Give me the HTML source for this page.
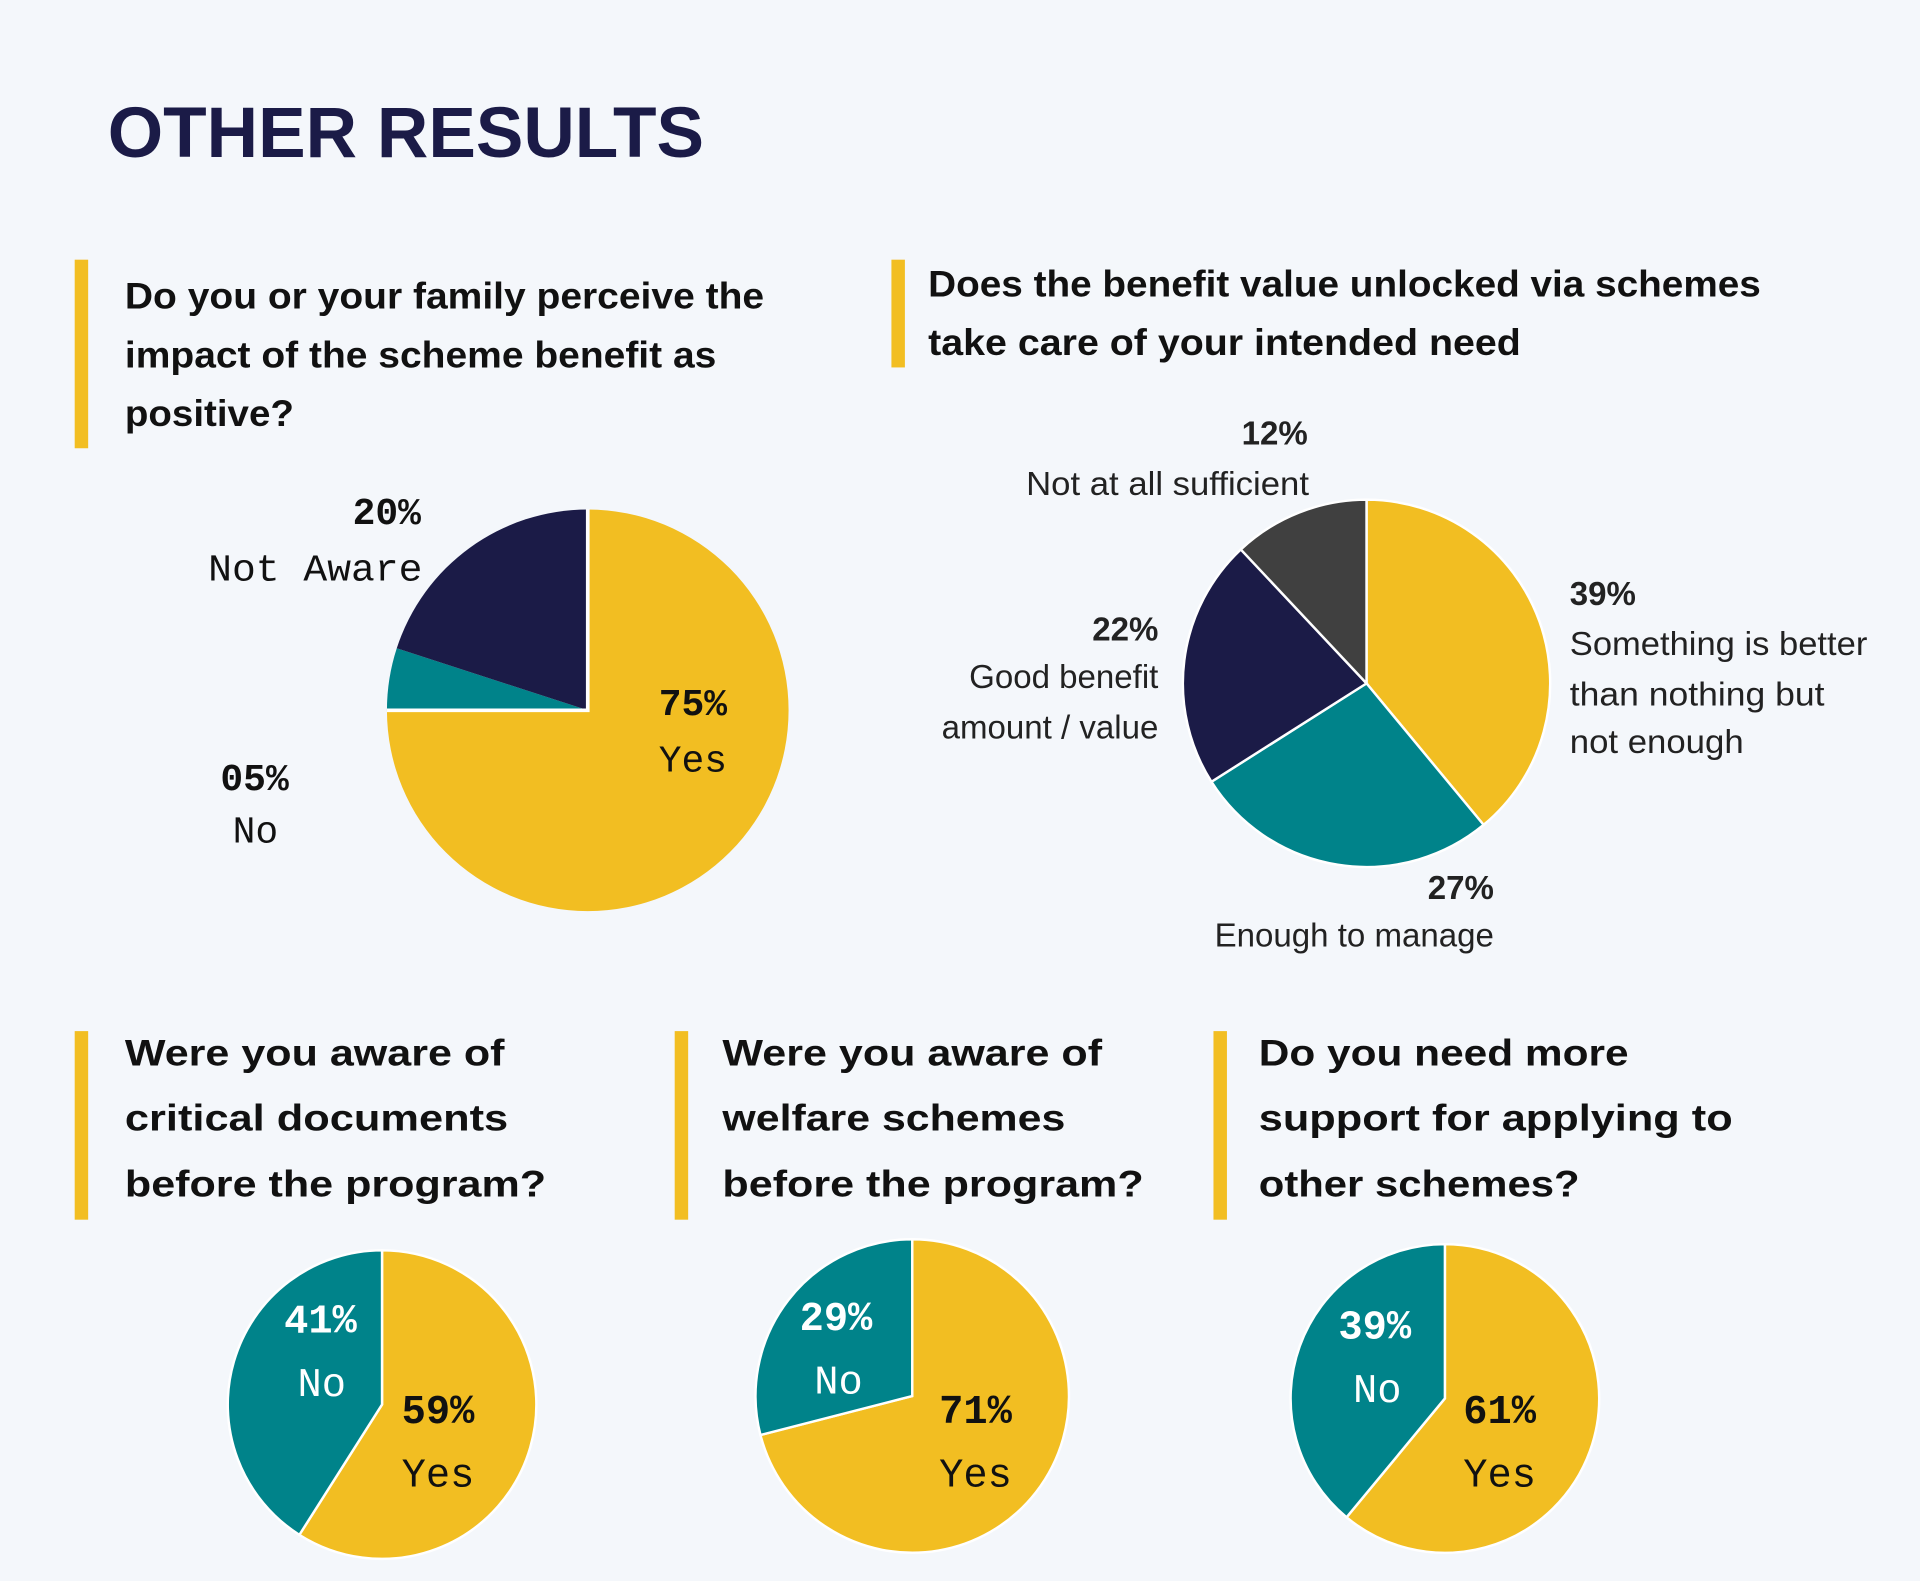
<!DOCTYPE html>
<html><head><meta charset="utf-8">
<style>
html,body{margin:0;padding:0;background:#f4f7fb;}
svg{display:block;}
.q{font-family:"Liberation Sans",sans-serif;font-weight:bold;font-size:30px;fill:#111;}
.mono{font-family:"Liberation Mono",monospace;font-size:31px;fill:#111;}
.sans{font-family:"Liberation Sans",sans-serif;font-size:27px;fill:#222;}
.b{font-weight:bold;}
</style></head>
<body>
<svg id="chart" width="1920" height="1581" viewBox="0 0 1568 1291" xmlns="http://www.w3.org/2000/svg">
<rect width="1568" height="1291" fill="#f4f7fb"/>
<text x="88" y="128" font-family="Liberation Sans,sans-serif" font-weight="bold" font-size="58" fill="#1b1b47" textLength="487" lengthAdjust="spacingAndGlyphs">OTHER  RESULTS</text>

<g>
<rect x="61" y="212" width="11" height="154" fill="#f2be22"/>
<text class="q" x="102" y="252" textLength="522" lengthAdjust="spacingAndGlyphs">Do you or your family perceive the</text>
<text class="q" x="102" y="300" textLength="483" lengthAdjust="spacingAndGlyphs">impact of the scheme benefit as</text>
<text class="q" x="102" y="348" textLength="138" lengthAdjust="spacingAndGlyphs">positive?</text>
</g>
<g>
<rect x="728" y="212" width="11" height="88" fill="#f2be22"/>
<text class="q" x="758" y="242" textLength="680" lengthAdjust="spacingAndGlyphs">Does the benefit value unlocked via schemes</text>
<text class="q" x="758" y="290" textLength="484" lengthAdjust="spacingAndGlyphs">take care of your intended need</text>
</g>
<g>
<rect x="61" y="842" width="11" height="154" fill="#f2be22"/>
<text class="q" x="102" y="870" textLength="310" lengthAdjust="spacingAndGlyphs">Were you aware of</text>
<text class="q" x="102" y="923" textLength="313" lengthAdjust="spacingAndGlyphs">critical documents</text>
<text class="q" x="102" y="977" textLength="344" lengthAdjust="spacingAndGlyphs">before the program?</text>
</g>
<g>
<rect x="551" y="842" width="11" height="154" fill="#f2be22"/>
<text class="q" x="590" y="870" textLength="310" lengthAdjust="spacingAndGlyphs">Were you aware of</text>
<text class="q" x="590" y="923" textLength="280" lengthAdjust="spacingAndGlyphs">welfare schemes</text>
<text class="q" x="590" y="977" textLength="344" lengthAdjust="spacingAndGlyphs">before the program?</text>
</g>
<g>
<rect x="991" y="842" width="11" height="154" fill="#f2be22"/>
<text class="q" x="1028" y="870" textLength="302" lengthAdjust="spacingAndGlyphs">Do you need more</text>
<text class="q" x="1028" y="923" textLength="387" lengthAdjust="spacingAndGlyphs">support for applying to</text>
<text class="q" x="1028" y="977" textLength="262" lengthAdjust="spacingAndGlyphs">other schemes?</text>
</g>

<g id="pies"></g>

<g>
<text class="mono b" x="288" y="428">20%</text>
<text class="mono" x="170" y="474" textLength="175" lengthAdjust="spacingAndGlyphs">Not Aware</text>
<text class="mono b" x="538" y="584">75%</text>
<text class="mono" x="538" y="630">Yes</text>
<text class="mono b" x="180" y="645">05%</text>
<text class="mono" x="190" y="688">No</text>
</g>
<g>
<text class="sans b" x="1014" y="363" font-size="25">12%</text>
<text class="sans" x="838" y="404" textLength="231" lengthAdjust="spacingAndGlyphs">Not at all sufficient</text>
<text class="sans b" x="1282" y="494" font-size="25">39%</text>
<text class="sans" x="1282" y="535" textLength="243" lengthAdjust="spacingAndGlyphs">Something is better</text>
<text class="sans" x="1282" y="576" textLength="208" lengthAdjust="spacingAndGlyphs">than nothing but</text>
<text class="sans" x="1282" y="615" textLength="142" lengthAdjust="spacingAndGlyphs">not enough</text>
<text class="sans b" x="946" y="523" text-anchor="end" font-size="25">22%</text>
<text class="sans" x="946" y="562" text-anchor="end">Good benefit</text>
<text class="sans" x="946" y="603" text-anchor="end">amount / value</text>
<text class="sans b" x="1220" y="734" text-anchor="end" font-size="25">27%</text>
<text class="sans" x="1220" y="773" text-anchor="end">Enough to manage</text>
</g>
<g font-family="Liberation Mono,monospace" font-size="33">
<text x="232" y="1088" fill="#fff" font-weight="bold">41%</text>
<text x="243" y="1140" fill="#fff">No</text>
<text x="328" y="1162" fill="#111" font-weight="bold">59%</text>
<text x="328" y="1214" fill="#111">Yes</text>
</g>
<g font-family="Liberation Mono,monospace" font-size="33">
<text x="653" y="1086" fill="#fff" font-weight="bold">29%</text>
<text x="665" y="1138" fill="#fff">No</text>
<text x="767" y="1162" fill="#111" font-weight="bold">71%</text>
<text x="767" y="1214" fill="#111">Yes</text>
</g>
<g font-family="Liberation Mono,monospace" font-size="33">
<text x="1093" y="1093" fill="#fff" font-weight="bold">39%</text>
<text x="1105" y="1145" fill="#fff">No</text>
<text x="1195" y="1162" fill="#111" font-weight="bold">61%</text>
<text x="1195" y="1214" fill="#111">Yes</text>
</g>
</svg>
<script>
const pie1Categories = ["Yes","No","Not Aware"];
const pie1Values = [75,5,20];
const pie2Categories = ["Something is better than nothing but not enough","Enough to manage","Good benefit amount / value","Not at all sufficient"];
const pie2Values = [39,27,22,12];
const pie3Categories = ["Yes","No"];
const pie3Values = [59,41];
const pie4Categories = ["Yes","No"];
const pie4Values = [71,29];
const pie5Categories = ["Yes","No"];
const pie5Values = [61,39];

const YEL="#f2be22", NAVY="#1b1b47", TEAL="#00838a", GRAY="#404040";
const pies = [
  {name:"pie-1", cx:480, cy:580, r:164, cats:pie1Categories, vals:pie1Values, cols:[YEL,TEAL,NAVY], stroke:"none"},
  {name:"pie-2", cx:1116, cy:558, r:150, cats:pie2Categories, vals:pie2Values, cols:[YEL,TEAL,NAVY,GRAY], stroke:"#fff"},
  {name:"pie-3", cx:312, cy:1147, r:126, cats:pie3Categories, vals:pie3Values, cols:[YEL,TEAL], stroke:"#fff"},
  {name:"pie-4", cx:745, cy:1140, r:128, cats:pie4Categories, vals:pie4Values, cols:[YEL,TEAL], stroke:"#fff"},
  {name:"pie-5", cx:1180, cy:1142, r:126, cats:pie5Categories, vals:pie5Values, cols:[YEL,TEAL], stroke:"#fff"}
];
const NS="http://www.w3.org/2000/svg";
const root=document.getElementById("pies");
function pt(cx,cy,r,a){return [cx+r*Math.sin(a), cy-r*Math.cos(a)];}
pies.forEach(p=>{
  const g=document.createElementNS(NS,"g");
  
  
  const total=p.vals.reduce((a,b)=>a+b,0);
  let acc=0;
  p.vals.forEach((v,i)=>{
    const a0=acc/total*2*Math.PI; acc+=v; const a1=acc/total*2*Math.PI;
    const s=pt(p.cx,p.cy,p.r,a0), e=pt(p.cx,p.cy,p.r,a1);
    const large=(a1-a0)>Math.PI?1:0;
    const path=document.createElementNS(NS,"path");
    path.setAttribute("d",`M${p.cx},${p.cy} L${s[0]},${s[1]} A${p.r},${p.r} 0 ${large} 1 ${e[0]},${e[1]} Z`);
    path.setAttribute("fill",p.cols[i]);
    if(p.stroke!=="none"){path.setAttribute("stroke",p.stroke);path.setAttribute("stroke-width","2");}
    
    
    g.appendChild(path);
  });
  if(p.name==="pie-1"){
    const l1=document.createElementNS(NS,"path");
    l1.setAttribute("d",`M${p.cx},${p.cy-p.r} V${p.cy} H${p.cx-p.r}`);
    l1.setAttribute("stroke","#fff");l1.setAttribute("stroke-width","3");l1.setAttribute("fill","none");
    g.appendChild(l1);
  }
  root.appendChild(g);
});
</script>
</body></html>
